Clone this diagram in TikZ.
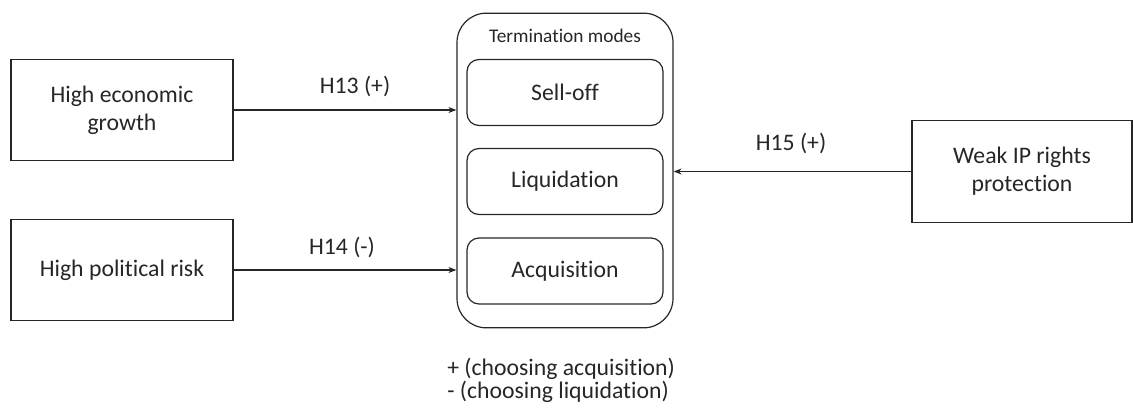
\documentclass[tikz,border=0pt]{standalone}
\usepackage{fontspec}
\setmainfont{Carlito}[Ligatures={NoCommon}]
\usetikzlibrary{arrows.meta}
\begin{document}
\begin{tikzpicture}[x=0.75pt,y=-0.75pt,
  every node/.style={font=\fontsize{17.8}{21}\selectfont, text=black!85},
  factor/.style={draw=black!85, line width=0.9pt, minimum width=166.5pt, minimum height=76pt, align=center, inner sep=0pt},
  outerbox/.style={draw=black!85, line width=0.9pt, rounded corners=22pt, minimum width=162pt, minimum height=236pt, inner sep=0pt},
  modebox/.style={draw=black!85, line width=0.9pt, rounded corners=9pt, minimum width=147pt, minimum height=49.5pt, inner sep=0pt},
  hyp/.style={draw=black!85, line width=0.9pt, -{Stealth[length=6pt,width=4.5pt]}},
  lab/.style={inner sep=0pt}]
\useasboundingbox (0,0) rectangle (1133,410);
\node[factor] (g) at (122,110) {High economic\\growth};
\node[factor] (p) at (122,270) {High political risk};
\node[factor, minimum width=165pt] (w) at (1022,171.5) {Weak IP rights\\protection};
\node[outerbox] (t) at (565,170.5) {};
\node[lab, font=\fontsize{14.5}{16}\selectfont] (tt) at (565,36) {Termination modes};
\node[modebox] (s) at (565,92.5) {Sell-off};
\node[modebox] (l) at (565,181.5) {Liquidation};
\node[modebox] (a) at (565,271) {Acquisition};
\draw[hyp] (g.east) -- (g.east -| t.west);
\draw[hyp] (p.east) -- (p.east -| t.west);
\draw[hyp] (w.west) -- (w.west -| t.east);
\node[lab] (h13) at (355,86) {H13 (+)};
\node[lab] (h14) at (342,247) {H14 ({-})};
\node[lab] (h15) at (791,143) {H15 (+)};
\node[lab, anchor=north west, align=left, font=\fontsize{17.8}{14.6}\selectfont] (note) at (447,358) {+ (choosing acquisition)\\- (choosing liquidation)};
\end{tikzpicture}
\end{document}
